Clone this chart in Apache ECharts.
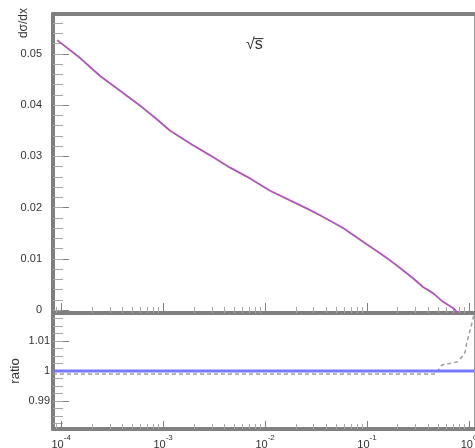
<!DOCTYPE html>
<html><head><meta charset="utf-8">
<script src="https://cdn.jsdelivr.net/npm/echarts@6/dist/echarts.min.js"></script>
<style>html,body{margin:0;padding:0;background:#fff}#c{width:475px;height:448px}</style>
</head><body><div id="c"></div>
<script>
// x values are log10(x)
const log10X = [-4.039, -3.814, -3.618, -3.422, -3.225, -3.059, -2.931, -2.735, -2.539, -2.343, -2.147, -1.951, -1.755, -1.588, -1.461, -1.235, -1.000, -0.873, -0.775, -0.676, -0.549, -0.451, -0.353, -0.255, -0.157, -0.108];
const curveRed  = [0.0527, 0.0492, 0.0457, 0.0428, 0.0399, 0.0372, 0.0350, 0.0325, 0.0302, 0.0278, 0.0257, 0.0233, 0.0214, 0.0198, 0.0185, 0.0160, 0.0128, 0.0111, 0.0097, 0.0082, 0.0062, 0.0045, 0.0033, 0.0016, 0.0004, -0.0006];
const curveBlue = [0.0527, 0.0492, 0.0457, 0.0428, 0.0399, 0.0372, 0.0350, 0.0325, 0.0302, 0.0278, 0.0257, 0.0233, 0.0214, 0.0198, 0.0185, 0.0160, 0.0128, 0.0111, 0.0097, 0.0082, 0.0062, 0.0045, 0.0033, 0.0016, 0.0004, -0.0006];
const ratioBlueX = [-4.08, 0.05];
const ratioBlue = [1, 1];
const ratioGrayX = [-4.08, -0.33, -0.265, -0.118, -0.069, -0.039, -0.020, 0.020, 0.05];
const ratioGray = [0.999, 0.999, 1.002, 1.003, 1.0047, 1.0063, 1.0097, 1.0147, 1.019];
const xMajorTicks = [-4, -3, -2, -1, 0];
const topYTicks = [0, 0.01, 0.02, 0.03, 0.04, 0.05];
const botYTicks = [0.99, 1, 1.01];

const X_MIN = -4.08, X_MAX = 0.049;
const xMinor = [];
for (let n = -5; n <= 0; n++) for (let k = 2; k <= 9; k++) {
  const v = n + Math.log10(k);
  if (v > X_MIN && v < X_MAX) xMinor.push(v);
}
const topYMinor = [];
for (let i = 0; i <= 28; i++) topYMinor.push(+(i * 0.002).toFixed(4));
const botYMinor = [];
for (let i = -7; i <= 7; i++) botYMinor.push(+(1 + i * 0.0025).toFixed(5));

const AX = '#808080', MIN = '#a8a8a8', TXT = '#333';
const FONT = 'Liberation Sans';
function xAx(grid, opts) {
  return Object.assign({
    type: 'value', gridIndex: grid, min: X_MIN, max: X_MAX, position: 'bottom',
    splitLine: {show: false},
    axisLine: {show: false, onZero: false},
    axisTick: {show: false},
    axisLabel: {show: false}
  }, opts);
}
function yAx(grid, min, max, opts) {
  return Object.assign({
    type: 'value', gridIndex: grid, min: min, max: max, position: 'left',
    splitLine: {show: false},
    axisLine: {show: false, onZero: false},
    axisTick: {show: false},
    axisLabel: {show: false}
  }, opts);
}
const TOP_MIN = -0.00058, TOP_MAX = 0.0578, BOT_MIN = 0.9807, BOT_MAX = 1.0193;

const chart = echarts.init(document.getElementById('c'), null, {renderer: 'canvas'});
chart.setOption({
  animation: false,
  backgroundColor: '#fff',
  textStyle: {fontFamily: FONT},
  grid: [
    {left: 53, right: 1, top: 14, height: 299, containLabel: false, outerBoundsMode: 'none'},
    {left: 53, right: 1, top: 313, height: 116, containLabel: false, outerBoundsMode: 'none'}
  ],
  xAxis: [
    xAx(0, {axisLine: {show: true, onZero: false, lineStyle: {color: AX, width: 4}},
            axisTick: {show: true, inside: true, length: 10, lineStyle: {color: AX, width: 1}, customValues: xMajorTicks}}),
    xAx(0, {axisTick: {show: true, inside: true, length: 6, lineStyle: {color: MIN, width: 1}, customValues: xMinor}}),
    xAx(0, {position: 'top', axisLine: {show: true, onZero: false, lineStyle: {color: AX, width: 4}}}),
    xAx(1, {axisLine: {show: true, onZero: false, lineStyle: {color: AX, width: 4}},
            axisTick: {show: true, inside: true, length: 8, lineStyle: {color: AX, width: 1}, customValues: xMajorTicks},
            axisLabel: {show: true, customValues: xMajorTicks, margin: 5, hideOverlap: false,
              formatter: v => '{a|10}{b|' + Math.round(v) + '}',
              rich: {a: {fontSize: 11, color: TXT, fontFamily: FONT, lineHeight: 16, verticalAlign: 'bottom'},
                     b: {fontSize: 8, color: TXT, fontFamily: FONT, lineHeight: 16, verticalAlign: 'top'}}}}),
    xAx(1, {axisTick: {show: true, inside: true, length: 5, lineStyle: {color: MIN, width: 1}, customValues: xMinor}})
  ],
  yAxis: [
    yAx(0, TOP_MIN, TOP_MAX, {axisLine: {show: true, onZero: false, lineStyle: {color: AX, width: 4}},
            axisTick: {show: true, inside: true, length: 16, lineStyle: {color: AX, width: 1}, customValues: topYTicks},
            axisLabel: {show: true, customValues: topYTicks, margin: 11, color: TXT, fontSize: 11, fontFamily: FONT, hideOverlap: false}}),
    yAx(0, TOP_MIN, TOP_MAX, {axisTick: {show: true, inside: true, length: 10, lineStyle: {color: MIN, width: 1}, customValues: topYMinor}}),
    yAx(0, TOP_MIN, TOP_MAX, {position: 'right', axisLine: {show: true, onZero: false, lineStyle: {color: '#999', width: 1}}}),
    yAx(1, BOT_MIN, BOT_MAX, {axisLine: {show: true, onZero: false, lineStyle: {color: AX, width: 4}},
            axisTick: {show: true, inside: true, length: 16, lineStyle: {color: AX, width: 1}, customValues: botYTicks},
            axisLabel: {show: true, customValues: botYTicks, margin: 3, color: TXT, fontSize: 11, fontFamily: FONT, hideOverlap: false}}),
    yAx(1, BOT_MIN, BOT_MAX, {axisTick: {show: true, inside: true, length: 10, lineStyle: {color: MIN, width: 1}, customValues: botYMinor}}),
    yAx(1, BOT_MIN, BOT_MAX, {position: 'right', axisLine: {show: true, onZero: false, lineStyle: {color: '#999', width: 1}}})
  ],
  series: [
    {type: 'line', xAxisIndex: 0, yAxisIndex: 0, showSymbol: false, clip: true,
     lineStyle: {color: '#f05a80', width: 1.8}, data: log10X.map((x, i) => [x, curveRed[i]])},
    {type: 'line', xAxisIndex: 0, yAxisIndex: 0, showSymbol: false, clip: true,
     lineStyle: {color: '#7a5cf0', width: 1.2, opacity: 0.75}, data: log10X.map((x, i) => [x, curveBlue[i]])},
    {type: 'line', xAxisIndex: 3, yAxisIndex: 3, showSymbol: false, clip: true,
     lineStyle: {color: '#a0a0a0', width: 1.5, type: [4, 3]}, data: ratioGrayX.map((x, i) => [x, ratioGray[i]])},
    {type: 'line', xAxisIndex: 3, yAxisIndex: 3, showSymbol: false, clip: true,
     lineStyle: {color: '#7878ff', width: 3}, data: ratioBlueX.map((x, i) => [x, ratioBlue[i]])}
  ],
  graphic: [
    {type: 'text', x: 246, y: 37, style: {text: '√s̅', font: '16px "Liberation Sans"', fill: TXT}},
    {type: 'text', x: 24, y: 8, rotation: Math.PI / 2,
     style: {text: 'dσ/dx', align: 'right', verticalAlign: 'middle', font: '12px "Liberation Sans"', fill: TXT}},
    {type: 'text', x: 15, y: 371, rotation: Math.PI / 2,
     style: {text: 'ratio', align: 'center', verticalAlign: 'middle', font: '13px "Liberation Sans"', fill: TXT}}
  ]
});
</script></body></html>
